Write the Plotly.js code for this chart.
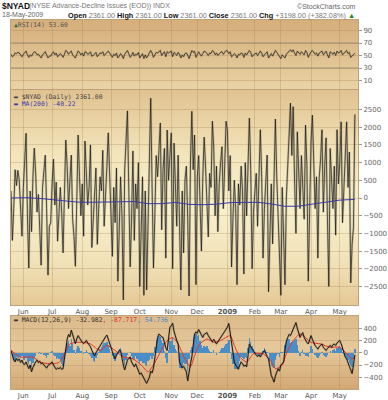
<!DOCTYPE html>
<html>
<head>
<meta charset="utf-8">
<script src="https://cdn.plot.ly/plotly-3.0.1.min.js"></script>
<style>
html,body{margin:0;padding:0;background:#fff;}
#chart{width:388px;height:400px;}
</style>
</head>
<body>
<div id="chart"></div>
<script>
// ---------------- DATA ----------------
const monthIdx = [9, 30, 52, 73, 94, 117, 136, 158, 178, 197, 219, 240];
const monthLabels = ['Jun','Jul','Aug','Sep','Oct','Nov','Dec','<b>2009</b>','Feb','Mar','Apr','May'];

const nyad = [
200, -1200, -300, 800, 350, 780, 500, -400, -1080, 300,
1200, 1830, -500, -1980, 200, -950, 600, 1410, 700, -400,
100, -900, -1900, 300, 700, 1210, -300, -2180, -800, -700,
400, 1100, -200, 450, -1220, -600, 300, -400, -1550, 100,
1640, 900, -300, 500, 1210, -600, -1100, -1930, 300, 1780,
600, -500, 400, -1080, 1610, 800, -200, 300, 1500, -1400,
-500, 400, 850, -1310, -300, 600, 200, 1350, -800, 300,
900, 1840, 500, -600, -1650, 300, -700, 850, -2350, -900,
600, -500, -2880, 800, 1500, 2460, 200, -1950, -600, 1330,
-1200, 400, -300, 1000, -2500, -800, 600, -2750, 200, -2600,
-1000, 900, 2820, 300, -1980, -500, 1200, 600, 1500, 2120,
-900, 800, 1400, -1700, 1920, 500, 1200, 1840, -2000, 1550,
400, -800, 1210, -300, -2600, 200, -1550, 500, 900, -600,
-2770, 1000, 2450, 800, 1780, -2450, 600, 1200, -400, -1500,
600, 1720, 900, -200, -1100, 700, 300, 2170, 1400, -500,
900, -950, 400, 1000, 1450, -300, 800, 2170, 1900, 200,
1200, -1950, -600, 500, -300, -2450, 400, -200, 900, 200,
-2150, 1000, -500, 600, 2260, 800, -2000, -400, 300, 700,
-800, 400, 1930, 600, -1700, -300, 500, 1215, -2650, -900,
400, -1300, 800, 2230, 600, -600, -1500, -2750, 300, -1200,
-2450, 0, 900, 1400, 2680, 1200, 2580, 500, -1000, 1870,
800, -300, 1200, 400, -600, 2060, 900, -2350, 300, 1580,
2340, 800, -300, 600, -1700, 580, 1100, 1930, -400, 900,
1700, -600, -2500, 1400, 600, -300, 900, -1050, 1930, 400,
1000, 2150, -700, 600, 1200, 2150, 300, 1300, -2400, -1300,
-837, 2361];

const maIdx = [0,10,20,30,40,50,60,70,80,90,100,110,120,130,140,150,160,170,180,190,200,210,220,230,240,251];
const maVal = [0,10,-10,-50,-100,-120,-120,-115,-90,-100,-160,-160,-125,-180,-190,-175,-130,-115,-120,-170,-235,-230,-170,-110,-60,-40.22];

const rsi = [
52, 48, 50, 54, 53, 55, 54, 51, 48, 52,
55, 57, 51, 47, 51, 49, 53, 56, 55, 51,
52, 49, 46, 51, 53, 56, 51, 46, 49, 49,
53, 56, 51, 54, 48, 50, 53, 51, 47, 52,
58, 56, 52, 55, 57, 51, 49, 46, 52, 57,
55, 51, 54, 49, 56, 55, 52, 53, 56, 49,
50, 53, 55, 48, 51, 54, 53, 56, 50, 53,
55, 57, 54, 50, 47, 52, 50, 54, 46, 49,
53, 50, 45, 52, 55, 58, 53, 47, 50, 55,
49, 52, 51, 55, 46, 49, 53, 45, 51, 46,
49, 54, 58, 54, 47, 51, 55, 54, 57, 58,
50, 54, 56, 48, 56, 54, 56, 57, 48, 55,
53, 50, 55, 52, 46, 51, 48, 53, 54, 51,
45, 53, 58, 55, 57, 47, 53, 56, 52, 49,
53, 57, 56, 53, 50, 54, 53, 58, 56, 51,
54, 50, 53, 55, 56, 52, 55, 58, 57, 53,
56, 48, 50, 53, 51, 46, 52, 51, 54, 53,
47, 54, 51, 54, 58, 55, 48, 51, 53, 54,
50, 53, 57, 54, 48, 51, 53, 56, 46, 49,
53, 49, 54, 58, 55, 51, 48, 45, 51, 49,
46, 52, 55, 56, 59, 56, 59, 54, 50, 57,
55, 52, 56, 54, 51, 58, 55, 47, 53, 56,
58, 55, 52, 54, 49, 54, 55, 57, 51, 54,
57, 51, 46, 56, 54, 52, 55, 50, 57, 54,
55, 58, 51, 54, 56, 58, 53, 55, 47, 49,
50, 53.6];
const rsiLevels = [30, 70];

const macd = [
37, -40, -120, -150, -90, -130, -100, -160, -120, -180,
-190, -150, -220, -260, -200, -310, -240, -180, -150, -120,
-160, -140, -180, -170, -200, -230, -250, -210, -190, -170,
-150, -200, -230, -270, -250, -260, -240, -270, -260, -100,
80, 220, 300, 260, 370, 300, 200, 150, 230, 280,
240, 200, 170, 150, 180, 200, 160, 130, 100, 40,
-20, -50, 0, 40, 60, 100, 150, 200, 240, 260,
290, 230, 150, 80, 20, -50, -100, -40, 10, 40,
37, -100, -200, -280, -200, -120, -90, -70, -150, -200,
-230, -180, -250, -300, -350, -330, -380, -420, -460, -500,
-450, -400, -300, -330, -250, -70, 100, 250, 306, 280,
260, 250, 150, 80, 37, 250, 420, 440, 484, 350,
250, 200, 144, -150, -200, -250, -220, -280, -310, -460,
-300, -180, -70, 150, 306, 340, 320, 380, 330, 280,
250, 300, 310, 330, 280, 240, 200, 180, 220, 170,
144, 180, 210, 240, 280, 300, 350, 387, 420, 480,
300, 120, -16, -150, -200, -240, -270, -200, -150, -180,
-220, -200, -230, -50, 144, 100, 60, 37, 0, -40,
-60, -30, -70, -20, 10, 37, -20, -60, -100, -250,
-370, -420, -480, -380, -300, -260, -300, -200, -180, -150,
50, 190, 250, 300, 280, 330, 400, 450, 494, 400,
320, 252, 300, 330, 250, 200, 170, 144, 200, 280,
220, 150, 120, 90, 60, 100, 130, 144, 90, 60,
37, 70, 100, 120, 90, 130, 144, 120, 160, 180,
200, 150, 60, 0, -70, -100, -150, -220, -280, -340,
-200, -32.982];

const sigIdx = [0,7,16,21,28,35,39,43,48,53,58,65,70,76,82,89,95,100,104,109,114,118,122,127,131,134,138,143,148,153,160,163,167,172,177,184,189,193,198,201,206,211,215,219,226,233,240,245,249,251];
const sigVal = [37,-70,-70,-150,-180,-160,-16,144,170,170,144,37,120,37,-70,-100,-200,-310,-200,10,200,250,144,-100,-230,-50,144,225,170,200,280,120,-70,-150,-16,-16,-120,-260,-200,-16,200,306,250,170,144,90,90,-16,-100,-87.717];

const hist = [
0, -60, -125, -140, -65, -90, -45, -90, -50, -110,
-120, -80, -150, -190, -130, -240, -170, -95, -50, 0,
-25, 10, -25, -10, -35, -60, -80, -35, -10, 5,
25, -30, -60, -105, -85, -100, -115, -180, -210, -85,
55, 155, 195, 115, 220, 145, 40, -15, 60, 110,
70, 30, 0, -20, 15, 40, 5, -20, -45, -90,
-135, -150, -85, -30, 10, 65, 95, 130, 155, 155,
170, 125, 60, 0, -45, -100, -135, -60, 10, 55,
70, -50, -130, -205, -120, -35, 0, 20, -55, -100,
-115, -45, -100, -135, -165, -130, -160, -175, -195, -210,
-140, -115, -45, -100, -50, 90, 215, 240, 280, 260,
210, 165, 25, -80, -160, 40, 195, 200, 235, 125,
55, 30, 0, -245, -245, -245, -170, -180, -180, -295,
-100, 50, 100, 260, 300, 300, 270, 285, 185, 120,
75, 105, 100, 105, 65, 35, 10, 0, 50, -5,
-40, -10, 15, 40, 70, 75, 115, 140, 165, 210,
20, -105, -190, -270, -270, -265, -245, -130, -65, -80,
-100, -65, -80, 75, 240, 170, 105, 55, 15, -25,
-45, -15, -55, 0, 25, 75, 40, 20, 0, -130,
-215, -230, -255, -120, -50, -25, -75, 10, 20, -10,
125, 205, 225, 230, 165, 175, 200, 215, 225, 120,
25, -55, 10, 50, -15, -50, -60, -65, 10, 110,
55, -10, -40, -65, -90, -50, -15, 10, -40, -60,
-75, -35, 0, 30, 0, 40, 55, 30, 70, 90,
110, 80, 10, -25, -75, -85, -115, -160, -200, -240,
-105, 54.736];

const rsiTicks = [10, 30, 50, 70, 90];
const nyadTicks = [-2500, -2000, -1500, -1000, -500, 0, 500, 1000, 1500, 2000, 2500];
const macdTicks = [-400, -200, 0, 200, 400];

// ---------------- LAYOUT HELPERS ----------------
const dayIdx = nyad.map((_, i) => i);
const L = 11, R = 358, T = 20, B = 389;
const W = R - L, H = B - T;
const px = x => (x - L) / W;
const py = y => (B - y) / H;

function grad(stops) {
  let s = "<svg xmlns='http://www.w3.org/2000/svg' width='10' height='100' viewBox='0 0 10 100' preserveAspectRatio='none'><defs><linearGradient id='g' x1='0' y1='0' x2='0' y2='1'>";
  stops.forEach(st => { s += "<stop offset='" + st[0] + "' stop-color='" + st[1] + "'/>"; });
  s += "</linearGradient></defs><rect x='0' y='0' width='10' height='100' fill='url(#g)'/></svg>";
  return 'data:image/svg+xml;charset=utf-8,' + encodeURIComponent(s);
}

const rsiDom = [py(89), py(20)];
const mainDom = [py(305), py(90)];
const macdDom = [py(389), py(316)];

const gridC = 'rgba(160,125,80,0.28)';
const lineC = '#bfa27a';
const tickFont = {family: 'DejaVu Sans, sans-serif', size: 7, color: '#666'};
const xRange = [0, 253.3];

function xAx(anchor, labels) {
  return {
    domain: [0, 1], range: xRange, anchor: anchor, fixedrange: true,
    tickmode: 'array', tickvals: monthIdx, ticktext: monthLabels,
    showticklabels: labels, tickfont: {family: 'DejaVu Sans, sans-serif', size: 7, color: '#555'},
    ticks: '', showgrid: true, gridcolor: gridC, gridwidth: 1,
    showline: true, linecolor: lineC, linewidth: 1, mirror: true, zeroline: false
  };
}
function yAx(dom, rng, vals, anchor) {
  return {
    domain: dom, range: rng, anchor: anchor, side: 'right', fixedrange: true,
    tickmode: 'array', tickvals: vals, ticks: 'outside', ticklen: 3, tickcolor: '#999',
    tickfont: tickFont, showgrid: true, gridcolor: gridC, gridwidth: 1,
    showline: true, linecolor: lineC, linewidth: 1, mirror: true, zeroline: false
  };
}

const traces = [
  // RSI
  {x: dayIdx, y: rsi, xaxis: 'x3', yaxis: 'y3', type: 'scatter', mode: 'lines',
   line: {color: 'rgba(90,80,60,0.22)', width: 1.8}, hoverinfo: 'skip'},
  {x: dayIdx, y: rsi, xaxis: 'x3', yaxis: 'y3', type: 'scatter', mode: 'lines',
   line: {color: '#222', width: 0.7}},
  // NYAD
  {x: dayIdx, y: nyad, xaxis: 'x2', yaxis: 'y2', type: 'scatter', mode: 'lines',
   line: {color: 'rgba(110,102,80,0.3)', width: 2.3}, hoverinfo: 'skip'},
  {x: dayIdx, y: nyad, xaxis: 'x2', yaxis: 'y2', type: 'scatter', mode: 'lines',
   line: {color: '#1a1a1a', width: 0.7}},
  {x: maIdx, y: maVal, xaxis: 'x2', yaxis: 'y2', type: 'scatter', mode: 'lines',
   line: {color: '#3a3aa6', width: 1}},
  // MACD
  {x: dayIdx, y: hist, xaxis: 'x', yaxis: 'y', type: 'bar',
   marker: {color: '#4a8ec8', line: {width: 0}}, width: 1},
  {x: sigIdx, y: sigVal, xaxis: 'x', yaxis: 'y', type: 'scatter', mode: 'lines',
   line: {color: '#e8302a', width: 1, shape: 'spline', smoothing: 0.6}},
  {x: dayIdx, y: macd, xaxis: 'x', yaxis: 'y', type: 'scatter', mode: 'lines',
   line: {color: 'rgba(60,55,45,0.25)', width: 2}, hoverinfo: 'skip'},
  {x: dayIdx, y: macd, xaxis: 'x', yaxis: 'y', type: 'scatter', mode: 'lines',
   line: {color: '#111', width: 0.9}}
];

const mono = 'DejaVu Sans Mono, monospace';
const sans = 'Liberation Sans, Arial, sans-serif';
function ann(x, y, text, opts) {
  return Object.assign({xref: 'paper', yref: 'paper', x: px(x), y: py(y), text: text,
    showarrow: false, xanchor: 'left', yanchor: 'middle', font: {family: sans, size: 7, color: '#666'}}, opts || {});
}

const annotations = [
  ann(0, 6, '<b>$NYAD</b>', {font: {family: sans, size: 8.5, color: '#111'}}),
  ann(27, 6.5, '(NYSE Advance-Decline Issues (EOD)) INDX', {font: {family: sans, size: 7, color: '#777'}}),
  ann(358, 6, '©StockCharts.com', {xanchor: 'right', font: {family: sans, size: 7, color: '#666'}}),
  ann(0, 15.5, '18-May-2009', {font: {family: sans, size: 7, color: '#666'}}),
  ann(357, 15.5, "<b style='color:#111'>Open</b> 2361.00 <b style='color:#111'>High</b> 2361.00 <b style='color:#111'>Low</b> 2361.00 <b style='color:#111'>Close</b> 2361.00 <b style='color:#111'>Chg</b> +3198.00 (+382.08%) <span style='color:#1a8a1a'>▲</span>",
      {xanchor: 'right', font: {family: sans, size: 7.3, color: '#777'}}),
  ann(12, 24.5, "<span style='color:#2f7a2f'>▲</span>RSI(14) 53.60", {font: {family: mono, size: 6.4, color: '#555'}}),
  ann(12, 97.5, '▬ $NYAD (Daily) 2361.00', {font: {family: mono, size: 6.4, color: '#444'}}),
  ann(12, 104.5, "<span style='color:#3a3aa6'>▬ MA(200) -40.22</span>", {font: {family: mono, size: 6.4, color: '#3a3aa6'}}),
  ann(12, 319.5, "▬ MACD(12,26,9) -32.982<span style='color:#e8302a'>, -87.717</span><span style='color:#4a8ec8'>, 54.736</span>",
      {font: {family: mono, size: 6.4, color: '#333'}})
];

const shapes = rsiLevels.map(v => ({type: 'line', xref: 'x3 domain', yref: 'y3', x0: 0, x1: 1, y0: v, y1: v,
  line: {color: '#9a8d7c', width: 1}, layer: 'below'}));

const images = [
  {source: grad([[0,'#d5ae7b'],[1,'#e9d3a4']]), xref: 'paper', yref: 'paper', x: 0, y: rsiDom[1],
   sizex: 1, sizey: rsiDom[1] - rsiDom[0], sizing: 'stretch', xanchor: 'left', yanchor: 'top', layer: 'below'},
  {source: grad([[0,'#e0c290'],[0.3,'#f3e5bb'],[0.55,'#f8f0cc'],[0.8,'#f1e2b8'],[1,'#e5c995']]), xref: 'paper', yref: 'paper', x: 0, y: mainDom[1],
   sizex: 1, sizey: mainDom[1] - mainDom[0], sizing: 'stretch', xanchor: 'left', yanchor: 'top', layer: 'below'},
  {source: grad([[0,'#dbb98a'],[0.45,'#e6c99b'],[1,'#d2a874']]), xref: 'paper', yref: 'paper', x: 0, y: macdDom[1],
   sizex: 1, sizey: macdDom[1] - macdDom[0], sizing: 'stretch', xanchor: 'left', yanchor: 'top', layer: 'below'}
];

const layout = {
  width: 388, height: 400,
  margin: {l: L, r: 388 - R, t: T, b: 400 - B, pad: 0},
  paper_bgcolor: '#ffffff', plot_bgcolor: 'rgba(0,0,0,0)',
  showlegend: false, bargap: 0,
  xaxis: xAx('y', true),
  xaxis2: Object.assign(xAx('y2', true), {matches: 'x'}),
  xaxis3: Object.assign(xAx('y3', false), {matches: 'x'}),
  yaxis: yAx(macdDom, [-592, 601], macdTicks, 'x'),
  yaxis2: yAx(mainDom, [-3023, 3051], nyadTicks, 'x2'),
  yaxis3: yAx(rsiDom, [-3.6, 106.8], rsiTicks, 'x3'),
  annotations: annotations, shapes: shapes, images: images
};

Plotly.newPlot('chart', traces, layout, {staticPlot: true, displayModeBar: false});
</script>
</body>
</html>
